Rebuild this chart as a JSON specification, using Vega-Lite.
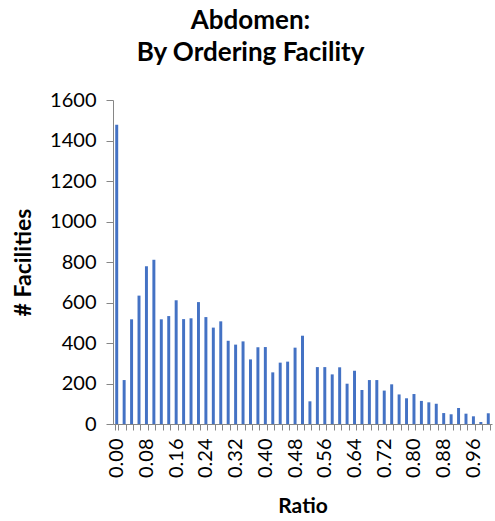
{
  "$schema": "https://vega.github.io/schema/vega-lite/v6.json",
  "autosize": "none",
  "width": 379,
  "height": 324,
  "padding": {"left": 113, "top": 100, "right": 3, "bottom": 97},
  "background": "white",
  "title": {
    "text": ["Abdomen:", "By Ordering Facility"],
    "font": "Lato",
    "fontSize": 26,
    "fontWeight": "bold",
    "color": "#000000",
    "anchor": "middle",
    "frame": "group",
    "dx": -52,
    "lineHeight": 32,
    "offset": 24
  },
  "data": {
    "values": [
      {"ratio": "0.00", "count": 1478},
      {"ratio": "0.02", "count": 217},
      {"ratio": "0.04", "count": 517},
      {"ratio": "0.06", "count": 634},
      {"ratio": "0.08", "count": 779},
      {"ratio": "0.10", "count": 811},
      {"ratio": "0.12", "count": 517},
      {"ratio": "0.14", "count": 533},
      {"ratio": "0.16", "count": 611},
      {"ratio": "0.18", "count": 518},
      {"ratio": "0.20", "count": 522},
      {"ratio": "0.22", "count": 602},
      {"ratio": "0.24", "count": 528},
      {"ratio": "0.26", "count": 476},
      {"ratio": "0.28", "count": 507},
      {"ratio": "0.30", "count": 411},
      {"ratio": "0.32", "count": 392},
      {"ratio": "0.34", "count": 408},
      {"ratio": "0.36", "count": 319},
      {"ratio": "0.38", "count": 379},
      {"ratio": "0.40", "count": 380},
      {"ratio": "0.42", "count": 255},
      {"ratio": "0.44", "count": 303},
      {"ratio": "0.46", "count": 308},
      {"ratio": "0.48", "count": 377},
      {"ratio": "0.50", "count": 436},
      {"ratio": "0.52", "count": 112},
      {"ratio": "0.54", "count": 281},
      {"ratio": "0.56", "count": 281},
      {"ratio": "0.58", "count": 245},
      {"ratio": "0.60", "count": 280},
      {"ratio": "0.62", "count": 199},
      {"ratio": "0.64", "count": 263},
      {"ratio": "0.66", "count": 168},
      {"ratio": "0.68", "count": 217},
      {"ratio": "0.70", "count": 217},
      {"ratio": "0.72", "count": 165},
      {"ratio": "0.74", "count": 196},
      {"ratio": "0.76", "count": 146},
      {"ratio": "0.78", "count": 127},
      {"ratio": "0.80", "count": 148},
      {"ratio": "0.82", "count": 114},
      {"ratio": "0.84", "count": 107},
      {"ratio": "0.86", "count": 100},
      {"ratio": "0.88", "count": 54},
      {"ratio": "0.90", "count": 48},
      {"ratio": "0.92", "count": 79},
      {"ratio": "0.94", "count": 51},
      {"ratio": "0.96", "count": 38},
      {"ratio": "0.98", "count": 10},
      {"ratio": "1.00", "count": 53}
    ]
  },
  "mark": {"type": "bar", "color": "#4472C4"},
  "encoding": {
    "x": {
      "field": "ratio",
      "type": "ordinal",
      "sort": null,
      "scale": {"paddingInner": 0.6, "paddingOuter": 0.3},
      "axis": {
        "title": "Ratio",
        "titleFont": "Lato",
        "titleFontSize": 21,
        "titleFontWeight": "bold",
        "titleColor": "#000000",
        "titlePadding": 18,
        "labelFont": "Lato",
        "labelFontSize": 20,
        "labelColor": "#000000",
        "labelAngle": -90,
        "labelAlign": "right",
        "labelBaseline": "middle",
        "labelPadding": 8,
        "labelOverlap": false,
        "labelExpr": "round(toNumber(datum.value)*100) % 8 == 0 ? datum.label : ''",
        "tickBand": "extent",
        "tickSize": 6,
        "tickColor": "#868686",
        "domainColor": "#868686",
        "grid": false
      }
    },
    "y": {
      "field": "count",
      "type": "quantitative",
      "scale": {"domain": [0, 1600], "nice": false},
      "axis": {
        "title": "# Facilities",
        "titleFont": "Lato",
        "titleFontSize": 23,
        "titleFontWeight": "bold",
        "titleColor": "#000000",
        "titlePadding": 14,
        "labelFont": "Lato",
        "labelFontSize": 20,
        "labelColor": "#000000",
        "labelPadding": 10,
        "format": "d",
        "values": [0, 200, 400, 600, 800, 1000, 1200, 1400, 1600],
        "tickSize": 7,
        "tickColor": "#868686",
        "domainColor": "#868686",
        "grid": false
      }
    }
  },
  "config": {"view": {"stroke": null}}
}
